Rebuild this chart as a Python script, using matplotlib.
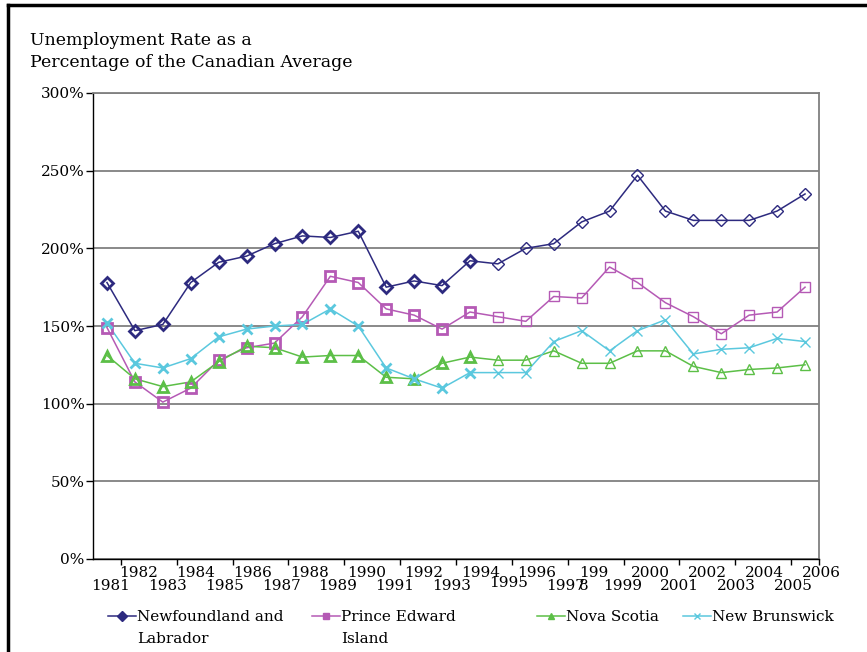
import matplotlib.pyplot as plt
from matplotlib.lines import Line2D
from matplotlib.ticker import FuncFormatter, FixedLocator

years = list(range(1981, 2007))

# Unemployment rate as % of the Canadian average
newfoundland = [178, 147, 151, 178, 191, 195, 203, 208, 207, 211, 175, 179, 176,
                192, 190, 200, 203, 217, 224, 247, 224, 218, 218, 218, 224, 235]
pei = [149, 114, 101, 110, 128, 136, 139, 156, 182, 178, 161, 157, 148,
       159, 156, 153, 169, 168, 188, 178, 165, 156, 145, 157, 159, 175]
nova_scotia = [131, 116, 111, 114, 127, 137, 136, 130, 131, 131, 117, 116, 126,
               130, 128, 128, 134, 126, 126, 134, 134, 124, 120, 122, 123, 125]
new_brunswick = [152, 126, 123, 129, 143, 148, 150, 151, 161, 150, 123, 116, 110,
                 120, 120, 120, 140, 147, 134, 147, 154, 132, 135, 136, 142, 140]

series = [
    ("Newfoundland and\nLabrador", newfoundland, "#2d2a7f", "D", 6),
    ("Prince Edward\nIsland", pei, "#b55ab5", "s", 7),
    ("Nova Scotia", nova_scotia, "#5cbf47", "^", 7),
    ("New Brunswick", new_brunswick, "#5bc8de", "x", 7),
]
legend_x = [108, 312, 537, 683]

plt.rcParams["font.family"] = "DejaVu Serif"

fig = plt.figure(figsize=(8.67, 6.52), dpi=100)
ax = fig.add_axes([93 / 867, 1 - 559 / 652, (819 - 93) / 867, (559 - 93) / 652])

xpos = [i + 0.5 for i in range(len(years))]
bold = slice(0, 14)
thin = slice(14, None)

for label, values, color, marker, ms in series:
    ax.plot(xpos, values, color=color, linewidth=1.1, zorder=3)
    ax.plot(xpos, values, linestyle="none", marker=marker, markersize=ms,
            markerfacecolor="none", markeredgecolor=color, markeredgewidth=2.0,
            markevery=bold, zorder=4)
    ax.plot(xpos, values, linestyle="none", marker=marker, markersize=ms,
            markerfacecolor="none", markeredgecolor=color, markeredgewidth=1.0,
            markevery=thin, zorder=4)

ax.set_xlim(0, len(years))
ax.set_ylim(0, 300)
ax.set_yticks(range(0, 301, 50))
ax.yaxis.set_major_formatter(FuncFormatter(lambda v, p: f"{v:.0f}%"))
ax.grid(True, axis="y", color="#808080", linewidth=1.3)
ax.set_axisbelow(True)
ax.tick_params(axis="y", direction="out", length=5, width=1, labelsize=11, pad=1)

ax.xaxis.set_major_locator(FixedLocator(list(range(1, len(years), 2)) + [len(years)]))
ax.tick_params(axis="x", direction="out", length=4, width=1, labelbottom=False)

for name in ["top", "right"]:
    ax.spines[name].set_color("#808080")
    ax.spines[name].set_linewidth(1.3)
for name in ["left", "bottom"]:
    ax.spines[name].set_color("black")
    ax.spines[name].set_linewidth(1.0)

# staggered year labels, even years high, odd years low
for i, yr in enumerate(years):
    text = str(yr)
    if yr == 1998:
        text = "199\n8"
    row_y = -0.014 if yr % 2 == 0 else -0.043
    if yr == 1995:
        row_y = -0.036
    ax.text(i + 0.62 + 0.019 * i, row_y, text, transform=ax.get_xaxis_transform(),
            ha="center", va="top", multialignment="left", fontsize=11,
            linespacing=0.95)

fig.text(30 / 867, 1 - 32 / 652,
         "Unemployment Rate as a\nPercentage of the Canadian Average",
         ha="left", va="top", fontsize=12.5, linespacing=1.4)

# legend: one entry per province, handle next to the first line of the label
legends = []
for (label, values, color, marker, ms), lx in zip(series, legend_x):
    first = label.split("\n")[0]
    handle = Line2D([], [], color=color, linewidth=1.1, marker=marker,
                    markersize=5, markerfacecolor=color, markeredgecolor=color)
    leg = fig.legend([handle], [first], loc="upper left",
                     bbox_to_anchor=(lx / 867, 1 - 610 / 652), frameon=False,
                     fontsize=11, handlelength=1.8, handletextpad=0.1,
                     borderpad=0, borderaxespad=0, labelspacing=0)
    legends.append((leg, label))

fig.canvas.draw()
renderer = fig.canvas.get_renderer()
for leg, label in legends:
    lines = label.split("\n")
    if len(lines) < 2:
        continue
    bb = leg.get_texts()[0].get_window_extent(renderer)
    fx, fy = fig.transFigure.inverted().transform((bb.x0, bb.y0))
    fig.text(fx, fy - 22 / 652, lines[1], ha="left", va="bottom", fontsize=11)

# outer frame: top and left edges only
fig.add_artist(Line2D([8 / 867, 1], [1 - 5 / 652, 1 - 5 / 652],
                      transform=fig.transFigure, color="black", linewidth=2.5))
fig.add_artist(Line2D([8 / 867, 8 / 867], [0, 1 - 5 / 652],
                      transform=fig.transFigure, color="black", linewidth=2.5))

fig.savefig("out.png", dpi=100)
